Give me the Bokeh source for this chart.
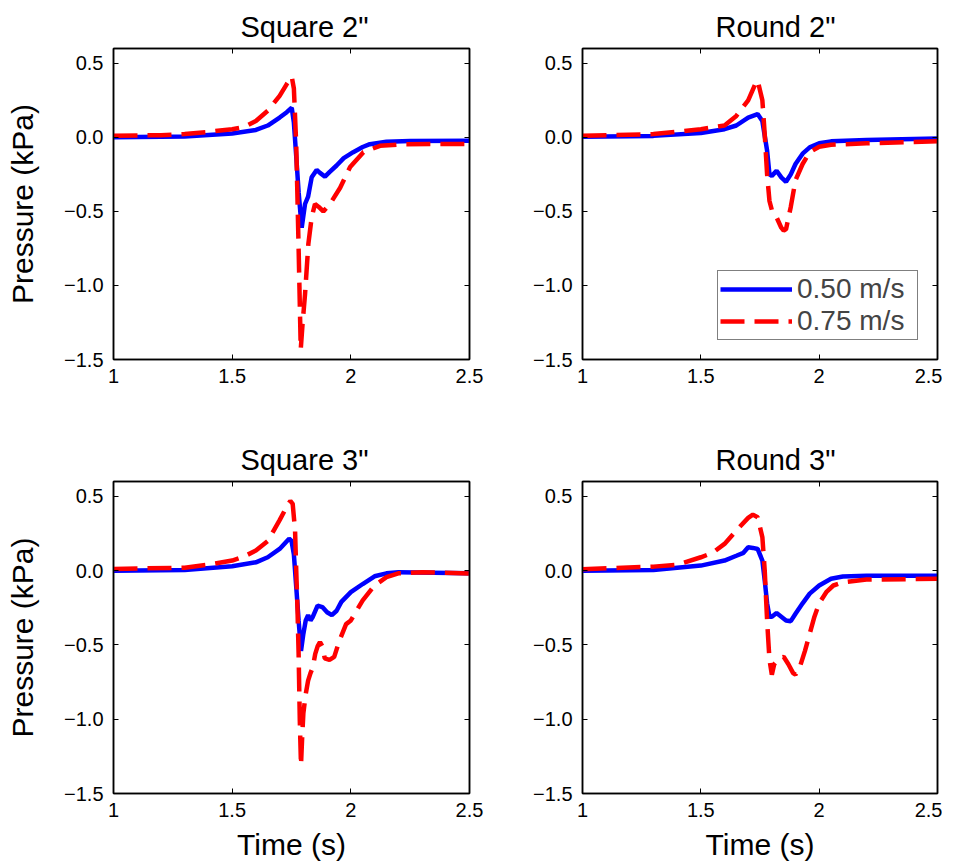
from bokeh.plotting import figure
from bokeh.layouts import column, row
from bokeh.models import LinearAxis, FixedTicker, Legend, LegendItem, Range1d, Title
from bokeh.embed import file_html
from bokeh.resources import INLINE

FONT = "Liberation Sans"

# ---------------- data ----------------
titles = ['Square 2"', 'Round 2"', 'Square 3"', 'Round 3"']
series_labels = ["0.50 m/s", "0.75 m/s"]

x_ticks = [1.0, 1.5, 2.0, 2.5]
x_tick_labels = ["1", "1.5", "2", "2.5"]
y_ticks = [-1.5, -1.0, -0.5, 0.0, 0.5]
y_tick_labels = ["\u22121.5", "\u22121.0", "\u22120.5", "0.0", "0.5"]

# Square 2"
sq2_t_050 = [1.0, 1.3, 1.5, 1.6, 1.65, 1.7, 1.73, 1.751, 1.76, 1.77, 1.78, 1.793, 1.807, 1.82, 1.835, 1.856, 1.87, 1.891, 1.91, 1.94, 1.97, 2.01, 2.05, 2.08, 2.15, 2.25, 2.5]
sq2_p_050 = [0.0, 0.005, 0.026, 0.05, 0.08, 0.134, 0.17, 0.20, 0.10, -0.13, -0.37, -0.61, -0.45, -0.40, -0.27, -0.22, -0.24, -0.265, -0.235, -0.19, -0.14, -0.10, -0.065, -0.046, -0.03, -0.024, -0.023]
sq2_t_075 = [1.0, 1.2, 1.3, 1.4, 1.5, 1.55, 1.6, 1.65, 1.7, 1.73, 1.751, 1.76, 1.77, 1.78, 1.789, 1.797, 1.807, 1.821, 1.835, 1.849, 1.865, 1.884, 1.912, 1.955, 1.997, 2.053, 2.123, 2.22, 2.5]
sq2_p_075 = [0.011, 0.015, 0.022, 0.037, 0.055, 0.07, 0.11, 0.18, 0.28, 0.36, 0.41, 0.33, -0.05, -0.75, -1.43, -1.25, -1.06, -0.72, -0.54, -0.45, -0.47, -0.50, -0.45, -0.34, -0.20, -0.10, -0.057, -0.046, -0.045]

# Round 2"
rd2_t_050 = [1.0, 1.3, 1.5, 1.6, 1.65, 1.7, 1.74, 1.76, 1.78, 1.79, 1.80, 1.82, 1.84, 1.86, 1.88, 1.90, 1.93, 1.96, 2.0, 2.05, 2.2, 2.5]
rd2_p_050 = [0.004, 0.01, 0.03, 0.055, 0.08, 0.134, 0.157, 0.11, -0.09, -0.25, -0.26, -0.225, -0.27, -0.30, -0.25, -0.18, -0.11, -0.068, -0.04, -0.027, -0.018, -0.007]
rd2_t_075 = [1.0, 1.3, 1.5, 1.6, 1.65, 1.7, 1.73, 1.74, 1.76, 1.77, 1.78, 1.79, 1.80, 1.82, 1.84, 1.85, 1.86, 1.88, 1.90, 1.93, 1.96, 2.0, 2.05, 2.2, 2.5]
rd2_p_075 = [0.011, 0.022, 0.055, 0.08, 0.145, 0.25, 0.36, 0.385, 0.25, 0.02, -0.25, -0.43, -0.49, -0.54, -0.61, -0.63, -0.62, -0.47, -0.29, -0.18, -0.10, -0.063, -0.05, -0.04, -0.027]

# Square 3"
sq3_t_050 = [1.0, 1.3, 1.5, 1.6, 1.65, 1.7, 1.74, 1.75, 1.76, 1.77, 1.78, 1.79, 1.80, 1.81, 1.82, 1.83, 1.84, 1.86, 1.88, 1.90, 1.92, 1.94, 1.96, 2.0, 2.05, 2.1, 2.15, 2.2, 2.5]
sq3_p_050 = [0.0, 0.005, 0.03, 0.056, 0.09, 0.146, 0.215, 0.20, 0.11, -0.11, -0.335, -0.54, -0.425, -0.335, -0.30, -0.335, -0.31, -0.235, -0.245, -0.28, -0.30, -0.27, -0.21, -0.145, -0.09, -0.038, -0.018, -0.01, -0.018]
sq3_t_075 = [1.0, 1.3, 1.4, 1.5, 1.55, 1.6, 1.65, 1.7, 1.73, 1.745, 1.755, 1.765, 1.77, 1.775, 1.78, 1.785, 1.79, 1.795, 1.80, 1.81, 1.82, 1.83, 1.84, 1.85, 1.86, 1.87, 1.88, 1.89, 1.91, 1.93, 1.95, 1.98, 2.0, 2.05, 2.1, 2.15, 2.2, 2.3, 2.5]
sq3_p_075 = [0.011, 0.02, 0.04, 0.068, 0.095, 0.135, 0.20, 0.34, 0.43, 0.47, 0.45, 0.27, 0.0, -0.245, -0.56, -1.01, -1.31, -1.12, -0.96, -0.83, -0.74, -0.69, -0.65, -0.56, -0.51, -0.48, -0.51, -0.59, -0.60, -0.58, -0.48, -0.36, -0.335, -0.20, -0.10, -0.044, -0.018, -0.01, -0.02]

# Round 3"
rd3_t_050 = [1.0, 1.3, 1.5, 1.6, 1.65, 1.68, 1.70, 1.72, 1.74, 1.76, 1.77, 1.78, 1.79, 1.80, 1.82, 1.84, 1.86, 1.88, 1.90, 1.93, 1.96, 2.0, 2.05, 2.1, 2.2, 2.5]
rd3_p_050 = [0.0, 0.005, 0.034, 0.068, 0.10, 0.12, 0.157, 0.153, 0.146, 0.068, -0.067, -0.22, -0.31, -0.31, -0.285, -0.31, -0.335, -0.34, -0.29, -0.22, -0.155, -0.10, -0.055, -0.04, -0.035, -0.035]
rd3_t_075 = [1.0, 1.3, 1.4, 1.5, 1.55, 1.6, 1.65, 1.7, 1.72, 1.74, 1.76, 1.77, 1.78, 1.79, 1.80, 1.81, 1.83, 1.85, 1.87, 1.89, 1.90, 1.92, 1.94, 1.96, 1.98, 2.0, 2.03, 2.06, 2.1, 2.2, 2.5]
rd3_p_075 = [0.01, 0.027, 0.04, 0.09, 0.12, 0.18, 0.27, 0.355, 0.377, 0.36, 0.225, 0.0, -0.335, -0.60, -0.70, -0.63, -0.59, -0.58, -0.63, -0.69, -0.70, -0.64, -0.54, -0.425, -0.31, -0.22, -0.145, -0.10, -0.078, -0.06, -0.055]

BLUE = "#0000ff"
RED = "#ff0000"


def make_panel(title, title_offset, t1, p1, t2, p2, show_xlabel, show_ylabel, legend,
               b_left, b_right, b_top, b_bottom, fw, fh):
    p = figure(frame_width=fw, frame_height=fh,
               x_range=Range1d(1.0, 2.5), y_range=Range1d(-1.5, 0.6),
               output_backend="svg", toolbar_location=None,
               min_border_left=b_left, min_border_right=b_right,
               min_border_top=b_top, min_border_bottom=b_bottom,
               background_fill_color="white", border_fill_color="white")
    p.grid.visible = False
    p.outline_line_color = "black"
    p.outline_line_width = 1.5

    p.title = Title(text=title, align="left", offset=title_offset, standoff=12,
                    text_font=FONT, text_font_size="29px",
                    text_font_style="normal", text_color="black")

    xa = p.xaxis[0]
    xa.ticker = FixedTicker(ticks=x_ticks)
    xa.major_label_overrides = dict(zip(x_ticks, x_tick_labels))
    ya = p.yaxis[0]
    ya.ticker = FixedTicker(ticks=y_ticks)
    ya.major_label_overrides = dict(zip(y_ticks, y_tick_labels))
    for ax in (xa, ya):
        ax.minor_tick_line_color = None
        ax.major_tick_in = 5
        ax.major_tick_out = 0
        ax.axis_line_width = 1.5
        ax.axis_line_color = "black"
        ax.major_tick_line_color = "black"
        ax.major_label_text_font = FONT
        ax.major_label_text_font_size = "20px"
        ax.major_label_text_color = "black"
        ax.axis_label_text_font = FONT
        ax.axis_label_text_font_style = "normal"
        ax.axis_label_text_color = "black"
    xa.axis_label_text_font_size = "30px"
    ya.axis_label_text_font_size = "30px"
    xa.major_label_standoff = 9
    ya.major_label_standoff = 10
    if show_xlabel:
        xa.axis_label = "Time (s)"
        xa.axis_label_standoff = 8
    if show_ylabel:
        ya.axis_label = "Pressure (kPa)"
        ya.axis_label_standoff = 22

    # mirrored tick marks on top and right
    for side, ticks in (("above", x_ticks), ("right", y_ticks)):
        ax = LinearAxis(ticker=FixedTicker(ticks=ticks),
                        major_label_overrides={t: "" for t in ticks},
                        major_label_text_font_size="1px",
                        major_label_standoff=0,
                        major_tick_in=5, major_tick_out=0,
                        minor_tick_line_color=None,
                        axis_line_width=1.5, axis_line_color="black")
        p.add_layout(ax, side)

    r1 = p.line(t1, p1, line_color=BLUE, line_width=4.5)
    r2 = p.line(t2, p2, line_color=RED, line_width=4.5, line_dash="24 10")

    if legend:
        lg = Legend(items=[LegendItem(label=series_labels[0], renderers=[r1]),
                           LegendItem(label=series_labels[1], renderers=[r2])],
                    location="bottom_right", margin=19, padding=2, spacing=0,
                    glyph_width=72, glyph_height=26, label_height=26,
                    label_width=118, label_standoff=5,
                    label_text_font=FONT, label_text_font_size="28px",
                    border_line_color="black", border_line_width=1.5,
                    background_fill_color="white", background_fill_alpha=1.0)
        p.add_layout(lg)
    return p


p1 = make_panel(titles[0], 127, sq2_t_050, sq2_p_050, sq2_t_075, sq2_p_075,
                False, True, False, 113, 20, 48, 40, 356, 311)
p2 = make_panel(titles[1], 133, rd2_t_050, rd2_p_050, rd2_t_075, rd2_p_075,
                False, False, True, 93, 5, 48, 40, 355, 311)
p3 = make_panel(titles[2], 127, sq3_t_050, sq3_p_050, sq3_t_075, sq3_p_075,
                True, True, False, 113, 20, 82, 56, 356, 312)
p4 = make_panel(titles[3], 133, rd3_t_050, rd3_p_050, rd3_t_075, rd3_p_075,
                True, False, False, 93, 5, 82, 56, 355, 312)

layout = column(row(p1, p2, spacing=0), row(p3, p4, spacing=0), spacing=0)

open("out.html", "w").write(file_html(layout, INLINE))
